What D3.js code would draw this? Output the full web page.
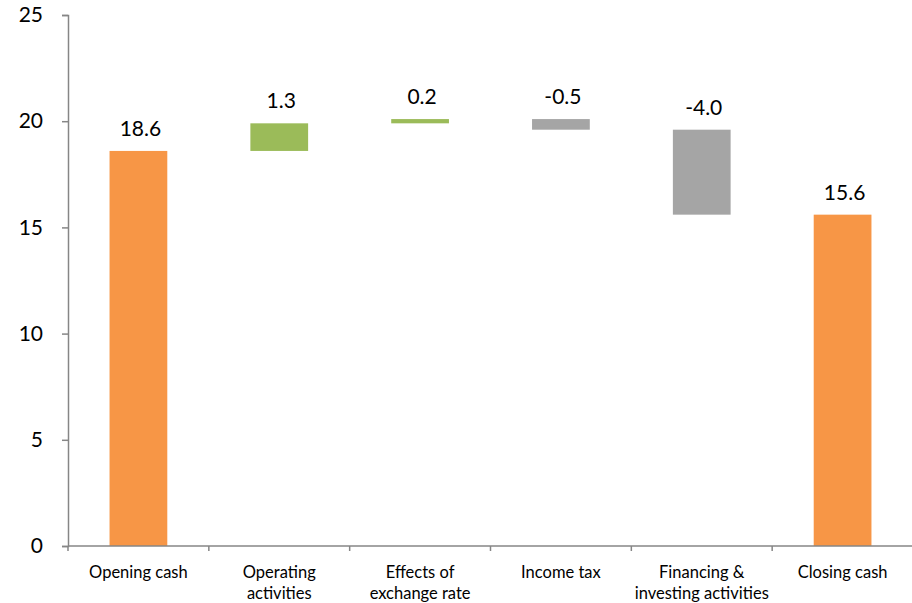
<!DOCTYPE html>
<html><head><meta charset="utf-8">
<script src="https://cdn.jsdelivr.net/npm/d3@7"></script>
<style>body{margin:0;background:#fff}svg{display:block}text{font-family:Lato,"Open Sans",sans-serif;fill:#000}</style>
</head><body>
<script>
const categories = [["Opening cash"],["Operating","activities"],["Effects of","exchange rate"],["Income tax"],["Financing &","investing activities"],["Closing cash"]];
const values = [18.6, 1.3, 0.2, -0.5, -4.0, 15.6];
const kinds = ["total","delta","delta","delta","delta","total"];
const yTicks = [0,5,10,15,20,25];
const colors = {total:"#F79646", up:"#9BBB59", down:"#A5A5A5"};

const W=912,H=603, m={l:68,r:-1,t:15,b:57};
const svg=d3.select("body").append("svg").attr("width",W).attr("height",H);
const x=d3.scaleBand().domain(d3.range(categories.length)).range([m.l,W-m.r]).paddingInner(0.59).paddingOuter(0.295);
const y=d3.scaleLinear().domain([0,25]).range([H-m.b,m.t]);
const fmt=d3.formatLocale({decimal:".",thousands:",",grouping:[3],currency:["",""],minus:"-"}).format(".1f");

let run=0;
const bars=values.map((v,i)=>{
  let lo,hi,c;
  if(kinds[i]==="total"){lo=0;hi=v;run=v;c=colors.total;}
  else {const s=run; run=s+v; lo=Math.min(s,run); hi=Math.max(s,run); c=v>=0?colors.up:colors.down;}
  return {i,v,lo,hi,c};
});
svg.selectAll("rect.bar").data(bars).join("rect").attr("class","bar")
  .attr("x",d=>x(d.i)).attr("width",x.bandwidth())
  .attr("y",d=>y(d.hi)).attr("height",d=>Math.max(1,y(d.lo)-y(d.hi))).attr("fill",d=>d.c);

svg.selectAll("text.val").data(bars).join("text").attr("class","val")
  .attr("x",d=>x(d.i)+x.bandwidth()/2+2).attr("y",d=>y(d.hi)-15)
  .attr("text-anchor","middle").style("font-size","21px").text(d=>fmt(d.v));

// y axis
const ya=svg.append("g").attr("transform",`translate(${m.l},0)`)
  .call(d3.axisLeft(y).tickValues(yTicks).tickSize(6).tickPadding(19));
ya.select(".domain").attr("stroke","#868686").attr("stroke-width",1.5);
ya.selectAll(".tick line").attr("stroke","#868686").attr("stroke-width",1.5);
ya.selectAll(".tick text").style("font-size","21px").style("font-family","Lato,'Open Sans',sans-serif").attr("fill","#000");

// x axis
const base=y(0);
const xa=svg.append("g");
xa.append("line").attr("x1",m.l).attr("x2",W).attr("y1",base).attr("y2",base).attr("stroke","#868686").attr("stroke-width",1.5);
const step=x.step();
const bounds=d3.range(categories.length).map(i=>x(i)+x.bandwidth()/2-step/2);
xa.selectAll("line.t").data(bounds).join("line").attr("class","t")
  .attr("x1",d=>d).attr("x2",d=>d).attr("y1",base).attr("y2",base+5).attr("stroke","#868686").attr("stroke-width",1.5);
const lab=xa.selectAll("text.cat").data(categories).join("text").attr("class","cat")
  .attr("text-anchor","middle").style("font-size","16.5px")
  .attr("transform",(d,i)=>`translate(${x(i)+x.bandwidth()/2},${base+32})`);
lab.selectAll("tspan").data(d=>d).join("tspan").attr("x",0).attr("dy",(d,j)=>j===0?0:21).text(d=>d);
</script>
</body></html>
